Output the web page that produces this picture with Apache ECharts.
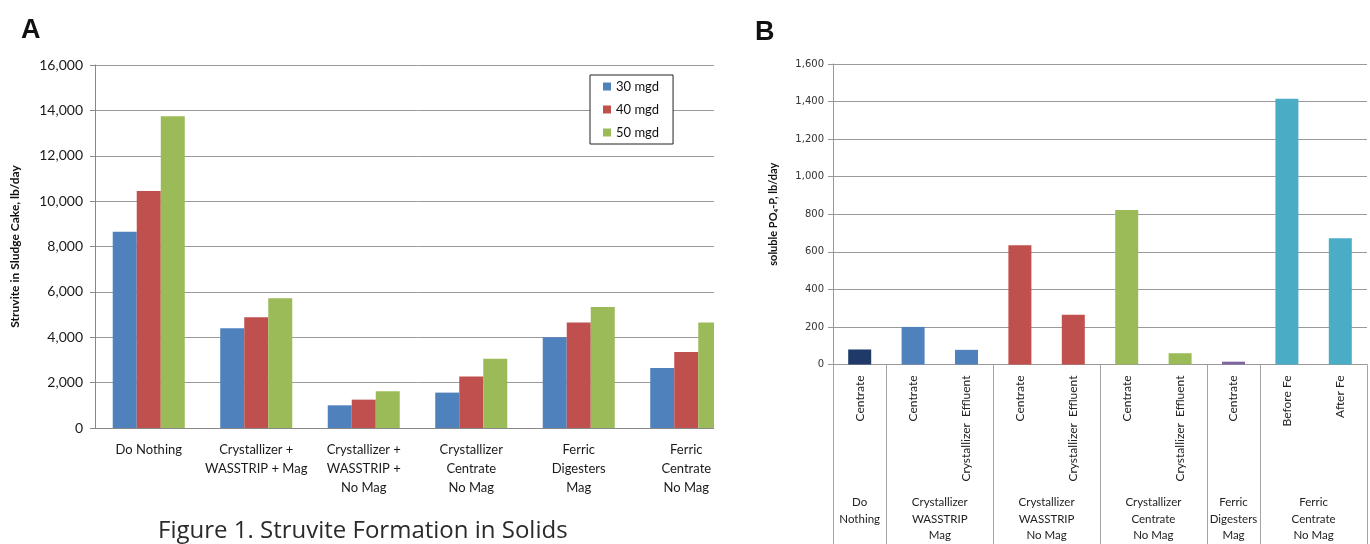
<!DOCTYPE html>
<html>
<head>
<meta charset="utf-8">
<script src="https://cdn.jsdelivr.net/npm/echarts@6/dist/echarts.min.js"></script>
<style>
html,body{margin:0;padding:0;background:#fff;}
#c{width:1370px;height:544px;}
</style>
</head>
<body>
<div id="c"></div>
<script>
// ---- Chart A data ----
const catsA = ['Do Nothing', 'Crystallizer +\nWASSTRIP + Mag', 'Crystallizer +\nWASSTRIP +\nNo Mag', 'Crystallizer\nCentrate\nNo Mag', 'Ferric\nDigesters\nMag', 'Ferric\nCentrate\nNo Mag'];
const seriesNamesA = ['30 mgd', '40 mgd', '50 mgd'];
const mgd30 = [8650, 4400, 1000, 1560, 4000, 2650];
const mgd40 = [10450, 4880, 1250, 2270, 4650, 3350];
const mgd50 = [13740, 5720, 1620, 3050, 5330, 4650];
const ticksA = { min: 0, max: 16000, interval: 2000 };

// ---- Chart B data ----
const catsB = ['Centrate', 'Centrate', 'Crystallizer  Effluent', 'Centrate', 'Crystallizer  Effluent', 'Centrate', 'Crystallizer  Effluent', 'Centrate', 'Before Fe', 'After Fe'];
const valuesB = [80, 200, 78, 635, 265, 822, 60, 15, 1415, 672];
const groupNamesB = ['Do\nNothing', 'Crystallizer\nWASSTRIP\nMag', 'Crystallizer\nWASSTRIP\nNo Mag', 'Crystallizer\nCentrate\nNo Mag', 'Ferric\nDigesters\nMag', 'Ferric\nCentrate\nNo Mag'];
const groupSpansB = [1, 2, 2, 2, 1, 2];
const ticksB = { min: 0, max: 1600, interval: 200 };

// ---- styles ----
const colorsA = ['#4F81BD', '#C0504D', '#9BBB59'];
const groupColorsB = ['#1F3A68', '#4F81BD', '#C0504D', '#9BBB59', '#8064A2', '#4BACC6'];
const gridColor = '#9a9a9a';

// build group membership for B bars
const barGroupB = [];
groupSpansB.forEach((s, g) => { for (let i = 0; i < s; i++) barGroupB.push(g); });

// half-unit group axis (boundaryGap false, 2*N+1 points)
const nHalf = catsB.length * 2 + 1;
const groupAxisData = new Array(nHalf).fill('');
const groupBoundaries = new Set([0]);
let pos = 0;
groupSpansB.forEach((s, g) => {
  groupAxisData[pos * 2 + s] = groupNamesB[g];
  pos += s;
  groupBoundaries.add(pos * 2);
});

const fmt = v => v.toLocaleString('en-US');
const labelFont = 'Lato';

const chart = echarts.init(document.getElementById('c'), null, { renderer: 'canvas' });
chart.setOption({
  animation: false,
  backgroundColor: '#fff',
  title: [
    { text: 'A', left: 16, top: 12, textStyle: { fontFamily: 'Liberation Sans', fontWeight: 'bold', fontSize: 27, color: '#111' } },
    { text: 'B', left: 750, top: 14, textStyle: { fontFamily: 'Liberation Sans', fontWeight: 'bold', fontSize: 27, color: '#111' } },
    { text: 'Figure 1. Struvite Formation in Solids', left: 153, top: 514, textStyle: { fontFamily: 'Open Sans', fontWeight: 'normal', fontSize: 24, color: '#2a2a2a' } }
  ],
  legend: {
    data: seriesNamesA,
    orient: 'vertical',
    left: 590, top: 75,
    borderColor: '#222', borderWidth: 1,
    backgroundColor: '#fff',
    padding: [5, 14, 5, 13],
    itemWidth: 8, itemHeight: 8, itemGap: 10,
    icon: 'rect',
    textStyle: { fontFamily: labelFont, fontSize: 13, color: '#111' }
  },
  grid: [
    { left: 95, top: 65, width: 645, height: 363 },
    { left: 833, top: 64, width: 550, height: 305 }
  ],
  xAxis: [
    {
      gridIndex: 0, type: 'category', data: catsA, position: 'bottom',
      axisLine: { lineStyle: { color: '#888' } },
      axisTick: { length: 5, lineStyle: { color: '#888' } },
      axisLabel: { interval: 0, margin: 12, fontFamily: labelFont, fontSize: 13, lineHeight: 19, color: '#1a1a1a' }
    },
    {
      gridIndex: 1, type: 'category', data: catsB, position: 'bottom',
      axisLine: { lineStyle: { color: '#999' } },
      axisTick: { length: 118, lineStyle: { color: '#a5a5a5' } },
      axisLabel: { interval: 0, rotate: 90, margin: 11, fontFamily: labelFont, fontSize: 12, color: '#222' }
    },
    {
      gridIndex: 1, type: 'category', data: groupAxisData, position: 'bottom', boundaryGap: false,
      axisLine: { show: false },
      axisTick: { show: true, length: 180, interval: (i) => groupBoundaries.has(i), lineStyle: { color: '#a5a5a5' } },
      axisLabel: { interval: 0, margin: 130, fontFamily: labelFont, fontSize: 11.5, lineHeight: 16.5, color: '#222', align: 'center' },
      splitLine: { show: false }
    }
  ],
  yAxis: [
    {
      gridIndex: 0, type: 'value', min: ticksA.min, max: ticksA.max, interval: ticksA.interval,
      axisLine: { show: true, lineStyle: { color: '#888' } },
      axisTick: { show: true, length: 5, lineStyle: { color: '#888' } },
      splitLine: { lineStyle: { color: gridColor, width: 1 } },
      axisLabel: { formatter: fmt, margin: 12, fontFamily: labelFont, fontSize: 14, color: '#1a1a1a' },
      name: 'Struvite in Sludge Cake, lb/day', nameLocation: 'middle', nameGap: 74,
      nameTextStyle: { fontFamily: labelFont, fontWeight: 'bold', fontSize: 12, color: '#111' }
    },
    {
      gridIndex: 1, type: 'value', min: ticksB.min, max: ticksB.max, interval: ticksB.interval,
      axisLine: { show: true, lineStyle: { color: '#999' } },
      axisTick: { show: true, length: 5, lineStyle: { color: '#999' } },
      splitLine: { lineStyle: { color: gridColor, width: 1 } },
      axisLabel: { formatter: fmt, margin: 9, fontFamily: 'DejaVu Sans', fontSize: 10, color: '#333' },
      name: 'soluble PO\u2084-P, lb/day', nameLocation: 'middle', nameGap: 54,
      nameTextStyle: { fontFamily: labelFont, fontWeight: 'bold', fontSize: 11, color: '#111' }
    }
  ],
  series: [
    { name: seriesNamesA[0], type: 'bar', xAxisIndex: 0, yAxisIndex: 0, data: mgd30, itemStyle: { color: colorsA[0] }, barGap: '0%', barCategoryGap: '33%' },
    { name: seriesNamesA[1], type: 'bar', xAxisIndex: 0, yAxisIndex: 0, data: mgd40, itemStyle: { color: colorsA[1] }, barGap: '0%', barCategoryGap: '33%' },
    { name: seriesNamesA[2], type: 'bar', xAxisIndex: 0, yAxisIndex: 0, data: mgd50, itemStyle: { color: colorsA[2] }, barGap: '0%', barCategoryGap: '33%' },
    {
      name: 'soluble PO4-P', type: 'bar', xAxisIndex: 1, yAxisIndex: 1, barWidth: 23,
      data: valuesB.map((v, i) => ({ value: v, itemStyle: { color: groupColorsB[barGroupB[i]] } }))
    }
  ],
  graphic: [
    { type: 'rect', left: 714, top: 50, shape: { width: 34, height: 382 }, style: { fill: '#fff' }, z: 100 }
  ]
});
</script>
</body>
</html>
